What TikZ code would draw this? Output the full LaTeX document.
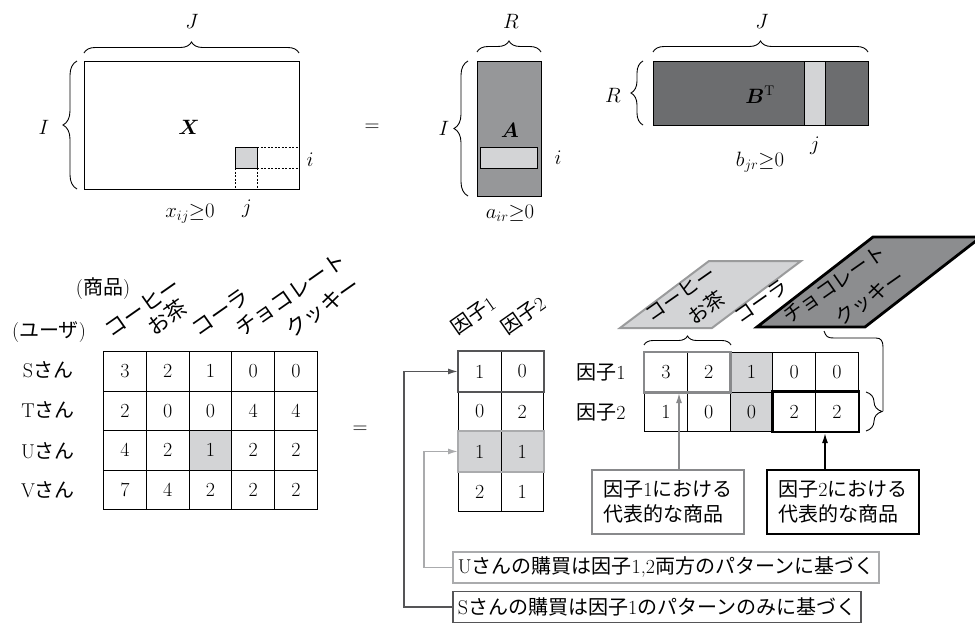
\documentclass[tikz,border=0pt]{standalone}
\usepackage{fontspec}
\usepackage{bm}
\newfontfamily\jpf{Noto Sans CJK JP}
\newcommand{\jp}[1]{{\jpf #1}}
\newcommand{\bigfs}{\fontsize{20}{25}\selectfont}
\newcommand{\hdfs}{\fontsize{21.5}{25}\selectfont}
\usetikzlibrary{decorations.pathreplacing,arrows.meta}
\definecolor{lg}{RGB}{211,212,214}
\definecolor{ga}{RGB}{150,151,153}
\definecolor{gb}{RGB}{108,109,111}
\definecolor{gp}{RGB}{140,141,143}
\definecolor{dk}{RGB}{85,85,87}
\definecolor{lt}{RGB}{170,171,173}
\definecolor{md}{RGB}{136,137,139}
\tikzset{
  thin line/.style={line width=0.9pt},
  brc/.style={thin line, decorate, decoration={brace, amplitude=#1}},
  brc/.default=11pt,
  cell/.style={draw, thin line, minimum width=42.8pt, minimum height=39.5pt, inner sep=0pt, anchor=north west},
  fcell/.style={draw, thin line, minimum width=42.5pt, minimum height=40pt, inner sep=0pt, anchor=north west},
  rot/.style={anchor=south west, inner sep=0pt, rotate=#1},
  rot/.default=35,
  arr/.style={line width=1.5pt, -{Latex[length=10pt,width=6pt]}},
  dots/.style={thin line, dash pattern=on 2pt off 1.5pt},
}
\begin{document}
\begin{tikzpicture}[x=1pt,y=-1pt,font=\bigfs]
\useasboundingbox (0,0) rectangle (975,624);
% ---------- top: X ----------
\draw[thin line] (84,61) rectangle (299,189);
\fill[lg] (235,147) rectangle (257,168);
\draw[thin line] (235,147) rectangle (257,168);
\draw[dots] (257,147) -- (299,147) (257,168) -- (299,168) (235,168) -- (235,189) (257,168) -- (257,189);
\node (Xl) at (189,127) {$\bm{X}$};
\draw[brc] (84,53) -- (299,53);
\node (J1) at (192,21) {$J$};
\draw[brc=14pt] (77,189) -- (77,61);
\node (I1) at (44,127) {$I$};
\node (i1) at (310,160) {$i$};
\node (j1) at (247,209) {$j$};
\node (x1) at (190,214) {$x_{ij}{\geq}0$};
\node (eq1) at (372,128) {$=$};
% ---------- A ----------
\draw[thin line, fill=ga] (477,61) rectangle (541,196);
\draw[thin line, fill=lg] (480,147) rectangle (537,168);
\node (Al) at (510,130) {$\bm{A}$};
\node (i2) at (558,158) {$i$};
\draw[brc] (477,52) -- (541,52);
\node (R1) at (511,21) {$R$};
\draw[brc=14pt] (468,196) -- (468,61);
\node (I2) at (444,128) {$I$};
\node (a1) at (510,213) {$a_{ir}{\geq}0$};
% ---------- B^T ----------
\draw[thin line, fill=gb] (653,61) rectangle (868,125);
\draw[thin line, fill=lg] (804,61) rectangle (825,125);
\node (Bl) at (760,95) {$\bm{B}^{\mathrm{T}}$};
\draw[brc] (653,52) -- (868,52);
\node (J2) at (762,21) {$J$};
\draw[brc=12pt] (643,125) -- (643,61);
\node (R2) at (613,95) {$R$};
\node (j2) at (815,146) {$j$};
\node (b1l) at (760,162) {$b_{jr}{\geq}0$};
% ---------- bottom-left table ----------
\node (shohin) at (103,289) {(\jp{商品})};
\node (user) at (49,332) {(\jp{ユーザ})};
\node[rot, font=\hdfs] (h1) at (112,339) {\jp{コーヒー}};
\node[rot, font=\hdfs] (h2) at (155,338) {\jp{お茶}};
\node[rot, font=\hdfs] (h3) at (199,338) {\jp{コーラ}};
\node[rot, font=\hdfs] (h4) at (243,339) {\jp{チョコレート}};
\node[rot, font=\hdfs] (h5) at (293,340) {\jp{クッキー}};
\node (rS) at (48,370) {S\jp{さん}};
\node (rT) at (48,410) {T\jp{さん}};
\node (rU) at (48,451) {U\jp{さん}};
\node (rV) at (48,490) {V\jp{さん}};
\fill[lg] (188.6,430) rectangle (231.4,469.5);
\foreach \r/\vals in {1/{3,2,1,0,0},2/{2,0,0,4,4},3/{4,2,1,2,2},4/{7,4,2,2,2}}{
  \foreach \v [count=\c] in \vals {
    \node[cell] (x\r\c) at ({103+42.8*(\c-1)},{351+39.5*(\r-1)}) {\v};
  }
}
\node (eq2) at (360,430) {$=$};
% ---------- factor matrix ----------
\node[rot] (fh1) at (458,337) {\jp{因子}1};
\node[rot] (fh2) at (508,337) {\jp{因子}2};
\fill[lg] (458,431) rectangle (543,471);
\foreach \r/\vals in {1/{1,0},2/{0,2},3/{1,1},4/{2,1}}{
  \foreach \v [count=\c] in \vals {
    \node[fcell] (f\r\c) at ({458+42.5*(\c-1)},{351+40*(\r-1)}) {\v};
  }
}
\draw[dk, line width=2.6pt] (f11.north west) rectangle (f12.south east);
\draw[lt, line width=2.6pt] (f31.north west) rectangle (f32.south east);
% ---------- right table ----------
\draw[line width=2pt, draw=md!85, fill=lg, line join=miter] (620,328) -- (712,328) -- (801,261) -- (709,261) -- cycle;
\draw[line width=2.8pt, fill=gp, line join=miter] (757,327) -- (865,327) -- (981,237) -- (873,237) -- cycle;
\node[rot] (p1) at (652,323) {\jp{コーヒー}};
\node[rot] (p2) at (695,327) {\jp{お茶}};
\node[rot] (p3) at (741,325) {\jp{コーラ}};
\node[rot] (p4) at (790,326) {\jp{チョコレート}};
\node[rot] (p5) at (842,328) {\jp{クッキー}};
\node (fr1) at (601,372) {\jp{因子}1};
\node (fr2) at (601,412) {\jp{因子}2};
\fill[lg] (729.6,352) rectangle (772.4,431);
\foreach \r/\vals in {1/{3,2,1,0,0},2/{1,0,0,2,2}}{
  \foreach \v [count=\c] in \vals {
    \node[cell] (r\r\c) at ({644+42.8*(\c-1)},{352+39.5*(\r-1)}) {\v};
  }
}
\draw[md, line width=2.8pt] (r11.north west) rectangle (r12.south east);
\draw[black, line width=2.8pt] (r24.north west) rectangle (r25.south east);
\draw[brc=9pt] (644,345) -- (731,345);
\draw[brc=16pt] (866,392) -- (866,431);
\draw[thin line] (824,331) .. controls (826,337) and (828,338) .. (834,338) -- (876,338) .. controls (881,338) and (883,341) .. (883,347) -- (883,411);
% ---------- annotation boxes ----------
\node[draw=md, line width=1.6pt, minimum width=152pt, minimum height=64pt, align=left] (bx1) at (668,502) {\jp{因子}1\jp{における}\\\jp{代表的な商品}};
\node[draw=black, line width=2pt, minimum width=152pt, minimum height=64pt, align=left] (bx2) at (843,502) {\jp{因子}2\jp{における}\\\jp{代表的な商品}};
\coordinate (ga1) at (679,393);
\coordinate (ba1) at (825,433);
\draw[arr, md] (ga1 |- bx1.north) -- (ga1);
\draw[arr, black] (ba1 |- bx2.north) -- (ba1);
\node[draw=lt, line width=1.6pt, anchor=west, minimum height=31pt, inner xsep=5pt] (ubox) at (452,567.5) {U\jp{さんの購買は因子}1,2\jp{両方のパターンに基づく}};
\node[draw=dk, line width=1.6pt, anchor=west, minimum height=31pt, inner xsep=5pt] (sbox) at (452,607) {S\jp{さんの購買は因子}1\jp{のパターンのみに基づく}};
\draw[arr, dk] (sbox.west) -- ++(-48,0) |- (f11.west);
\draw[arr, lt] (ubox.west) -- ++(-28,0) |- (f31.west);
\end{tikzpicture}
\end{document}
